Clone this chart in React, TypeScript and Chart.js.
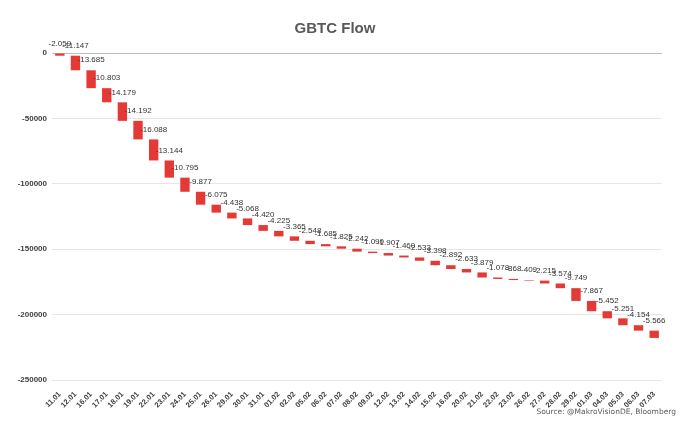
import React, { useEffect, useRef } from 'react';
import { Chart, registerables } from 'chart.js';

Chart.register(...registerables);

const dates = [
  '11.01', '12.01', '16.01', '17.01', '18.01', '19.01', '22.01', '23.01', '24.01', '25.01',
  '26.01', '29.01', '30.01', '31.01', '01.02', '02.02', '05.02', '06.02', '07.02', '08.02',
  '09.02', '12.02', '13.02', '14.02', '15.02', '16.02', '20.02', '21.02', '22.02', '23.02',
  '26.02', '27.02', '28.02', '29.02', '01.03', '04.03', '05.03', '06.03', '07.03',
];

const flows = [
  -2059, -11147, -13685, -10803, -14179, -14192, -16088, -13144, -10795, -9877,
  -6075, -4438, -5068, -4420, -4225, -3365, -2548, -1685, -1825, -2242,
  -1090, -1907, -1460, -2533, -3398, -2892, -2633, -3879, -1078, -868,
  -409, -2215, -3574, -9749, -7867, -5452, -5251, -4154, -5566,
];

const yMin = -250000;
const yMax = 0;
const yStep = 50000;

const titleText = 'GBTC Flow';
const sourceText = 'Source: @MakroVisionDE, Bloomberg';

function fmt(v: number): string {
  const s = Math.abs(v).toString().replace(/\B(?=(\d{3})+(?!\d))/g, '.');
  return (v < 0 ? '-' : '') + s;
}

export default function App() {
  const ref = useRef<HTMLCanvasElement>(null);

  useEffect(() => {
    document.body.style.margin = '0';
    let cum = 0;
    const ranges = flows.map((v) => {
      const s = cum;
      cum += v;
      return [s, cum];
    });

    const labelPlugin = {
      id: 'wfLabels',
      afterDatasetsDraw(chart: any) {
        const ctx = chart.ctx;
        const meta = chart.getDatasetMeta(0);
        ctx.save();
        ctx.font = '8px "Liberation Sans", Arial, sans-serif';
        ctx.fillStyle = '#333333';
        ctx.textAlign = 'center';
        ctx.textBaseline = 'middle';
        meta.data.forEach((el: any, i: number) => {
          const p = el.getProps(['x', 'y', 'base'], true);
          const top = Math.min(p.y, p.base);
          ctx.fillText(fmt(flows[i]), p.x, top - 10);
        });
        ctx.restore();
      },
      afterDraw(chart: any) {
        const ctx = chart.ctx;
        ctx.save();
        ctx.font = '7.5px "DejaVu Sans", Verdana, sans-serif';
        ctx.fillStyle = '#595959';
        ctx.textAlign = 'right';
        ctx.textBaseline = 'middle';
        ctx.fillText(sourceText, chart.width - 4, 412.5);
        ctx.restore();
      },
    };

    const chart = new Chart(ref.current as HTMLCanvasElement, {
      type: 'bar',
      data: {
        labels: dates,
        datasets: [
          {
            data: ranges as any,
            backgroundColor: '#E53935',
            barPercentage: 0.6,
            categoryPercentage: 1,
          },
        ],
      },
      options: {
        animation: false,
        responsive: true,
        maintainAspectRatio: false,
        layout: { padding: { left: 8, right: 18, top: 0, bottom: 0 } },
        plugins: {
          legend: { display: false },
          tooltip: { enabled: false },
          title: {
            display: true,
            text: titleText,
            color: '#595959',
            font: { size: 15, weight: 'bold', family: '"Liberation Sans", Arial, sans-serif' },
            padding: { top: 20, bottom: 15 },
          },
        },
        scales: {
          x: {
            grid: { display: false },
            border: { display: false },
            ticks: {
              minRotation: 45,
              maxRotation: 45,
              autoSkip: false,
              padding: 2,
              color: '#404040',
              font: { size: 7.5, weight: 'bold', family: '"Liberation Sans", Arial, sans-serif' },
            },
            afterFit(axis: any) {
              axis.height = 41;
            },
          },
          y: {
            min: yMin,
            max: yMax,
            border: { display: false },
            grid: {
              drawTicks: false,
              color: (c: any) => (c.tick && c.tick.value === 0 ? '#bfbfbf' : '#e6e6e6'),
            },
            ticks: {
              stepSize: yStep,
              padding: 5,
              color: '#404040',
              font: { size: 8, weight: 'bold', family: '"Liberation Sans", Arial, sans-serif' },
              callback: (v: any) => String(v),
            },
            afterFit(axis: any) {
              axis.width = 44;
            },
          },
        },
      },
      plugins: [labelPlugin],
    });

    return () => chart.destroy();
  }, []);

  return (
    <div style={{ width: 680, height: 421, position: 'relative' }}>
      <canvas ref={ref} />
    </div>
  );
}
